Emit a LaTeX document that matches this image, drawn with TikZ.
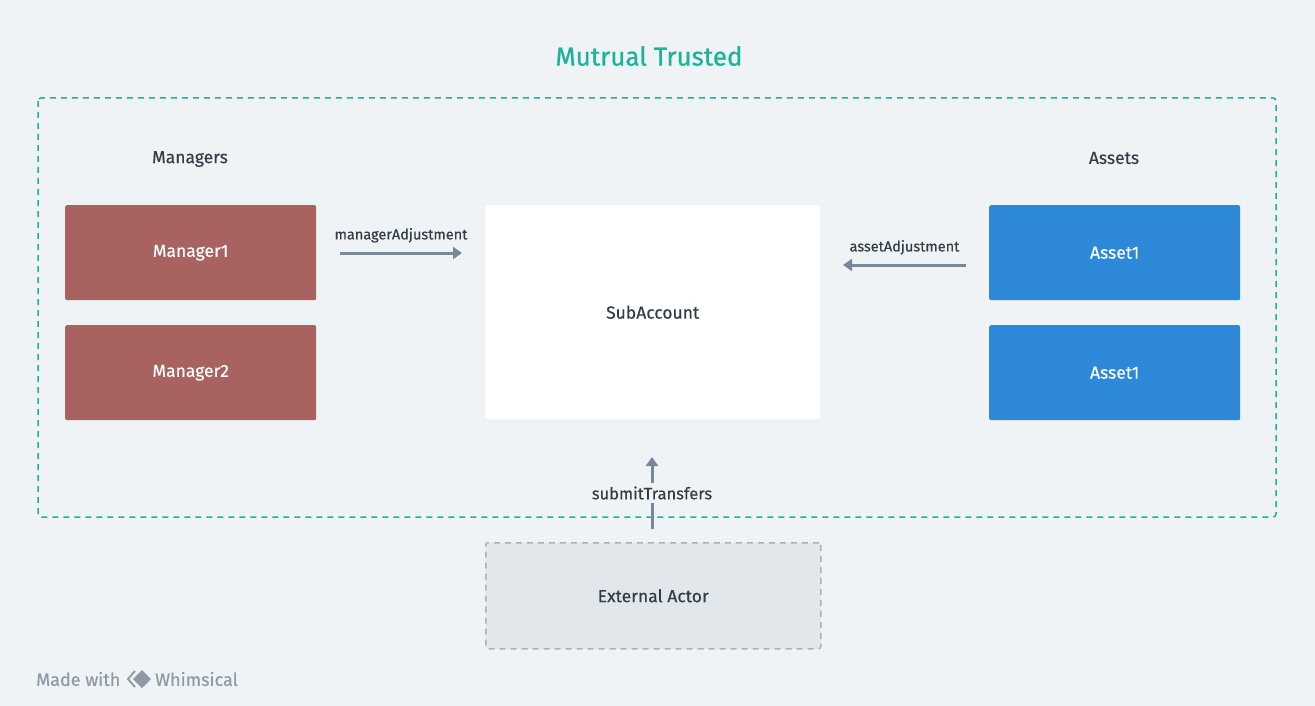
\documentclass[tikz,border=0pt]{standalone}
\usepackage{fontspec}
\setmainfont{Fira Sans}
\newfontfamily\medfont[FakeBold=0.35]{Fira Sans}
\newfontfamily\semifont[FakeBold=0.7]{Fira Sans}
\usetikzlibrary{arrows.meta}
\definecolor{bg}{HTML}{EFF3F6}
\definecolor{teal}{HTML}{1BB39A}
\definecolor{mgr}{HTML}{A86361}
\definecolor{ast}{HTML}{2E88D8}
\definecolor{arr}{HTML}{77889A}
\definecolor{txt}{HTML}{323D47}
\definecolor{extfill}{HTML}{E2E7EB}
\definecolor{extline}{HTML}{A9B2BA}
\definecolor{foot}{HTML}{8E9AA5}
\tikzset{
  x=1pt, y=-1pt,
  box/.style={rounded corners=2pt, minimum width=251pt, minimum height=95pt, inner sep=0pt, text=white, font=\medfont\fontsize{17.5}{20}\selectfont, anchor=north west},
  mbox/.style={box, fill=mgr},
  abox/.style={box, fill=ast},
  lbl/.style={text=txt, font=\medfont\fontsize{14.5}{17}\selectfont, inner sep=1pt},
  conn/.style={draw=arr, line width=3pt, -{Triangle[length=9pt,width=12pt]}},
}
\begin{document}
\begin{tikzpicture}
\useasboundingbox (0,0) rectangle (1315,706);
\fill[bg] (0,0) rectangle (1315,706);
% trusted region
\draw[teal, line width=1.5pt, dash pattern=on 6pt off 5pt, rounded corners=3pt] (38,98) rectangle (1276,517);
\node[text=teal, font=\semifont\fontsize{26}{30}\selectfont] (title) at (649,56) {Mutrual Trusted};
\node[lbl, font=\medfont\fontsize{17.5}{20}\selectfont] (mgrs) at (190,159) {Managers};
\node[lbl, font=\medfont\fontsize{17.5}{20}\selectfont] (assets) at (1114,158) {Assets};
% boxes
\node[mbox] (m1) at (65,205) {Manager1};
\node[mbox] (m2) at (65,325) {Manager2};
\node[abox] (a1) at (989,205) {Asset1};
\node[abox] (a2) at (989,325) {Asset1};
\node[fill=white, rounded corners=2pt, minimum width=335pt, minimum height=214pt, inner sep=0pt, anchor=north west, text=txt, font=\medfont\fontsize{17.5}{20}\selectfont] (sub) at (485,205) {SubAccount};
% external actor
\node[fill=extfill, draw=extline, line width=1.5pt, dash pattern=on 6pt off 5pt, rounded corners=2pt, minimum width=335pt, minimum height=106pt, inner sep=0pt, anchor=north west, text=txt, font=\medfont\fontsize{17.5}{20}\selectfont] (ext) at (485,542) {External Actor};
% connectors
\coordinate (mstart) at (340,253);
\coordinate (mend) at (462,253);
\draw[conn] (mstart) -- node[lbl, above=8pt] {managerAdjustment} (mend);
\coordinate (astart) at (966,265);
\coordinate (aend) at (843,265);
\draw[conn] (astart) -- node[lbl, above=8pt] {assetAdjustment} (aend);
\coordinate (sstart) at (652,529);
\coordinate (send) at (652,457);
\draw[conn] (sstart) -- (send);
\node[lbl, fill=bg, inner sep=3pt, font=\medfont\fontsize{16.5}{19}\selectfont] (sub lbl) at (652,493) {submitTransfers};
% footer
\node[text=foot, font=\medfont\fontsize{18}{21}\selectfont, anchor=west, inner sep=0pt] (made) at (36,679) {Made with};
\draw[foot, line width=1.8pt] (135,671) -- (128,679) -- (135,687);
\fill[foot] (142,670) -- (151,679) -- (142,688) -- (133,679) -- cycle;
\node[text=foot, font=\medfont\fontsize{18}{21}\selectfont, anchor=west, inner sep=0pt] (whim) at (155,679) {Whimsical};
\end{tikzpicture}
\end{document}
